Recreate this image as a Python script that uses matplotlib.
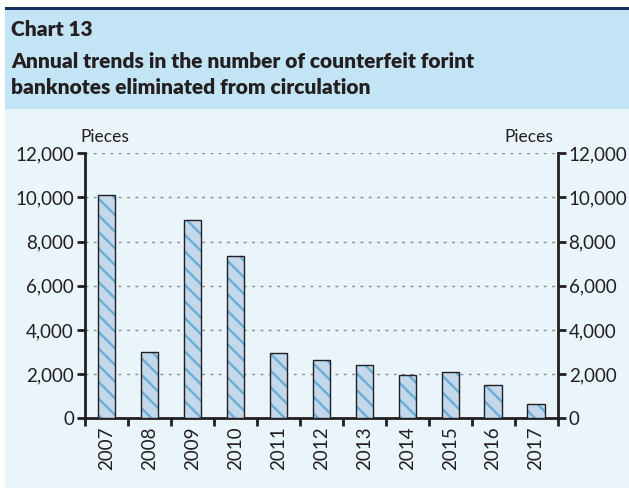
import matplotlib
matplotlib.use("Agg")
import matplotlib.pyplot as plt
from matplotlib.patches import Rectangle

years = ["2007", "2008", "2009", "2010", "2011", "2012", "2013", "2014", "2015", "2016", "2017"]
values = [10100, 3000, 9000, 7370, 2950, 2630, 2400, 1940, 2110, 1530, 650]
yticks = [0, 2000, 4000, 6000, 8000, 10000, 12000]
ytick_labels = ["0", "2,000", "4,000", "6,000", "8,000", "10,000", "12,000"]
title_lines = ["Chart 13", "Annual trends in the number of counterfeit forint",
               "banknotes eliminated from circulation"]
unit = "Pieces"

W, H = 629, 488
fig = plt.figure(figsize=(W / 100, H / 100), dpi=100)
fig.patch.set_facecolor("white")

FONT = "Lato"
DARK = "#231f20"

# background bands
fig.add_artist(Rectangle((5 / W, 0), 1, (H - 108) / H, transform=fig.transFigure,
                         facecolor="#e9f4fb", edgecolor="none", zorder=0))
fig.add_artist(Rectangle((5 / W, (H - 109) / H), 1, 100 / H, transform=fig.transFigure,
                         facecolor="#c2e4f4", edgecolor="none", zorder=0))
fig.add_artist(Rectangle((5 / W, (H - 9.5) / H), 1, 2.5 / H, transform=fig.transFigure,
                         facecolor="#1b2f5b", edgecolor="none", zorder=1))

ys = [30, 62, 88]
for i, (t, y) in enumerate(zip(title_lines, ys)):
    fig.text(11 / W, 1 - y / H, t, fontsize=15.0, fontweight="heavy", family=FONT,
             color="#231f20", va="center", ha="left")

left, right, bottom, top = 85, 557.5, 418.3, 153.3
ax = fig.add_axes([left / W, 1 - bottom / H, (right - left) / W, (bottom - top) / H])
ax.set_facecolor("none")

x = list(range(len(years)))
plt.rcParams["hatch.linewidth"] = 1.7
ax.bar(x, values, width=0.4, facecolor="#c4d8eb", edgecolor="#6aaed6", hatch="\\\\", linewidth=0, zorder=3)
ax.bar(x, values, width=0.4, facecolor="none", edgecolor=DARK, linewidth=1.0, zorder=4)

ax.set_xlim(-0.5, len(years) - 0.5)
ax.set_ylim(0, 12000)
ax.set_yticks(yticks)
ax.set_yticklabels(ytick_labels, family=FONT, fontsize=13.5, color=DARK)
ax.set_xticks([i + 0.5 for i in range(-1, len(years))], minor=False)
ax.set_xticklabels([])
ax.set_xticks(x, minor=True)
ax.set_xticklabels(years, minor=True, rotation=90, family=FONT, fontsize=13.5, color=DARK)
ax.tick_params(axis="x", which="major", length=6, width=2, color=DARK, direction="out")
ax.tick_params(axis="x", which="minor", length=0, pad=6)
ax.tick_params(axis="y", length=6, width=2, color=DARK, direction="out", pad=2,
               left=True, right=True, labelleft=True, labelright=True)
for lbl in ax.get_yticklabels(which="both"):
    lbl.set_family(FONT)
for s in ["left", "right", "bottom"]:
    ax.spines[s].set_color(DARK)
    ax.spines[s].set_linewidth(2)
ax.spines["top"].set_visible(False)
ax.yaxis.grid(True, linestyle=(0, (2, 4)), color="#8c8c8c", linewidth=1.0, zorder=1)
ax.set_axisbelow(True)

fig.text(80 / W, 1 - 137 / H, unit, family=FONT, fontsize=12.5, color=DARK, va="center", ha="left")
fig.text(553 / W, 1 - 137 / H, unit, family=FONT, fontsize=12.5, color=DARK, va="center", ha="right")

fig.savefig("out.png", dpi=100)
